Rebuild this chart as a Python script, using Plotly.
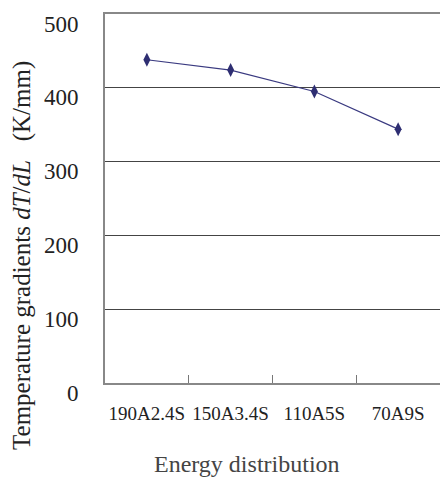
import plotly.graph_objects as go

categories = ["190A2.4S", "150A3.4S", "110A5S", "70A9S"]
gradients = [438, 424, 395, 344]
y_ticks = [0, 100, 200, 300, 400, 500]
y_tick_labels = ["0", "100", "200", "300", "400", "500"]

FONT = "Liberation Serif"

fig = go.Figure()
fig.add_trace(go.Scatter(
    x=categories, y=gradients, mode="lines+markers",
    line=dict(color="#3a3a80", width=1.2),
    marker=dict(symbol="diamond-tall", size=10, color="#2e2e72"),
    showlegend=False,
))

annotations = []
for v, t in zip(y_ticks, y_tick_labels):
    annotations.append(dict(
        x=0, xref="paper", y=v, yref="y", text=t, showarrow=False,
        xanchor="right", yanchor="middle", xshift=-24, yshift=-10,
        font=dict(family=FONT, size=23, color="#222"),
    ))
annotations.append(dict(
    x=0.424, xref="paper", y=-0.22, yref="paper", text="Energy distribution",
    showarrow=False, xanchor="center", yanchor="middle",
    font=dict(family=FONT, size=24, color="#444"),
))
annotations.append(dict(
    x=-0.25, xref="paper", y=0.345, yref="paper",
    text="Temperature gradients <i>dT</i>/<i>dL</i>   (K/mm)",
    showarrow=False, textangle=-90, xanchor="center", yanchor="middle",
    font=dict(family=FONT, size=25, color="#222"),
))

fig.update_layout(
    width=440, height=478,
    margin=dict(l=105, r=0, t=14, b=95, autoexpand=False),
    paper_bgcolor="white", plot_bgcolor="white",
    annotations=annotations,
    xaxis=dict(
        type="category", range=[-0.5, 3.5], automargin=False,
        showline=True, linecolor="#888", linewidth=1.5, mirror=True,
        ticks="inside", tickson="boundaries", ticklen=8, tickcolor="#777",
        showgrid=False, ticklabelstandoff=12, tickangle=0,
        tickfont=dict(family=FONT, size=19, color="#222"),
    ),
    yaxis=dict(
        range=[0, 500], tickvals=y_ticks, showticklabels=False,
        showline=True, linecolor="#888", linewidth=1.5,
        showgrid=True, gridcolor="#444", gridwidth=1, zeroline=False,
        ticks="",
    ),
)
fig.write_html("out.html")
